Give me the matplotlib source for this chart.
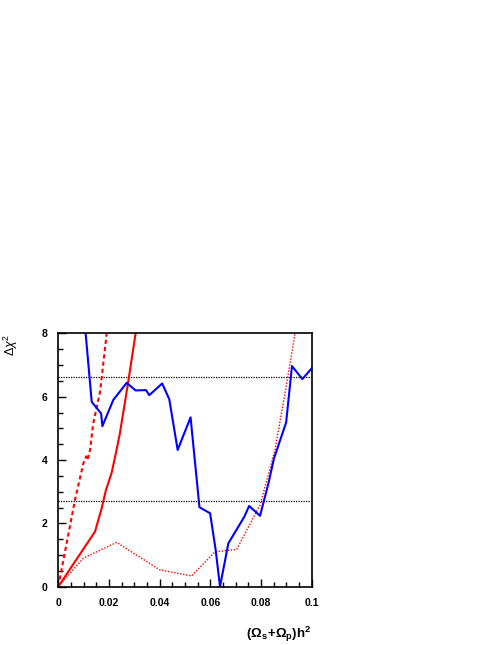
import matplotlib
matplotlib.use("Agg")
import matplotlib.pyplot as plt
from matplotlib.ticker import MultipleLocator

plt.rcParams['font.family'] = ['Liberation Sans', 'DejaVu Sans']
plt.rcParams['mathtext.fontset'] = 'custom'
plt.rcParams['mathtext.rm'] = 'Liberation Sans'
plt.rcParams['mathtext.it'] = 'Liberation Sans:italic'
plt.rcParams['mathtext.bf'] = 'Liberation Sans:bold'

# blue curve (full fit)
blue_x = [0.0108, 0.0132, 0.0169, 0.0174, 0.0217, 0.0270, 0.0305, 0.0346, 0.0359,
          0.0410, 0.0438, 0.0471, 0.0522, 0.0557, 0.0599, 0.0621, 0.0638, 0.0671,
          0.0734, 0.0753, 0.0796, 0.0829, 0.0851, 0.0899, 0.0922, 0.0963, 0.1000]
blue_y = [8.0, 5.84, 5.47, 5.07, 5.90, 6.44, 6.20, 6.21, 6.05,
          6.42, 5.92, 4.32, 5.35, 2.51, 2.32, 1.16, 0.0, 1.37,
          2.21, 2.55, 2.24, 3.26, 4.05, 5.19, 6.97, 6.56, 6.90]

# red solid
red_x = [0.0, 0.0145, 0.0171, 0.0188, 0.0210, 0.0230, 0.0243, 0.0276, 0.0305]
red_y = [0.0, 1.74, 2.47, 3.05, 3.58, 4.32, 4.84, 6.47, 8.0]

# red dashed
dash_x = [0.0, 0.0066, 0.0099, 0.0106, 0.0110, 0.0115, 0.0125, 0.0138, 0.0165, 0.0191]
dash_y = [0.0, 2.74, 3.90, 4.02, 4.12, 4.00, 4.30, 5.16, 6.16, 8.0]

# red dotted
dot_x = [0.0, 0.0099, 0.0230, 0.0401, 0.0526, 0.0618, 0.0704, 0.0796, 0.0855, 0.0899, 0.0934]
dot_y = [0.0, 0.90, 1.40, 0.53, 0.34, 1.10, 1.18, 2.58, 4.32, 6.32, 8.0]

# confidence levels
levels = [2.71, 6.63]

fig = plt.figure(figsize=(4.98, 6.45), dpi=100)
ax = fig.add_axes([0.117, 0.0904, 0.509, 0.3926])

for lv in levels:
    ax.axhline(lv, color='black', linestyle=(0, (1, 1)), linewidth=0.9)

ax.plot(dot_x, dot_y, color='red', linestyle=(0, (1, 1.2)), linewidth=1.0)
ax.plot(dash_x, dash_y, color='red', linestyle=(0, (2, 1.5)), linewidth=1.5)
ax.plot(red_x, red_y, color='red', linewidth=1.5)
ax.plot(blue_x, blue_y, color='blue', linewidth=1.5)

ax.set_xlim(0, 0.1)
ax.set_ylim(0, 8)
ax.xaxis.set_major_locator(MultipleLocator(0.02))
ax.xaxis.set_minor_locator(MultipleLocator(0.005))
ax.yaxis.set_major_locator(MultipleLocator(2))
ax.yaxis.set_minor_locator(MultipleLocator(0.5))
ax.set_xticks([0, 0.02, 0.04, 0.06, 0.08, 0.1])
ax.set_xticklabels(['0', '0.02', '0.04', '0.06', '0.08', '0.1'])
ax.tick_params(which='both', direction='in', top=False, right=False,
               labelsize=7.5, width=1)
ax.tick_params(which='major', length=6, pad=8)
ax.tick_params(which='minor', length=3.5)
for lab in ax.get_xticklabels() + ax.get_yticklabels():
    lab.set_fontweight('bold')
for sp in ax.spines.values():
    sp.set_linewidth(1.2)

ax.set_xlabel(r'$\mathbf{(\Omega_s\!+\!\Omega_p)h^2}$', fontsize=9.5, loc='right')
ax.xaxis.set_label_coords(1.0, -0.15)
ax.set_ylabel(r'$\Delta\chi^2$', fontsize=9, loc='top')
ax.yaxis.set_label_coords(-0.15, 1.0)

plt.savefig('out.png', dpi=100)
